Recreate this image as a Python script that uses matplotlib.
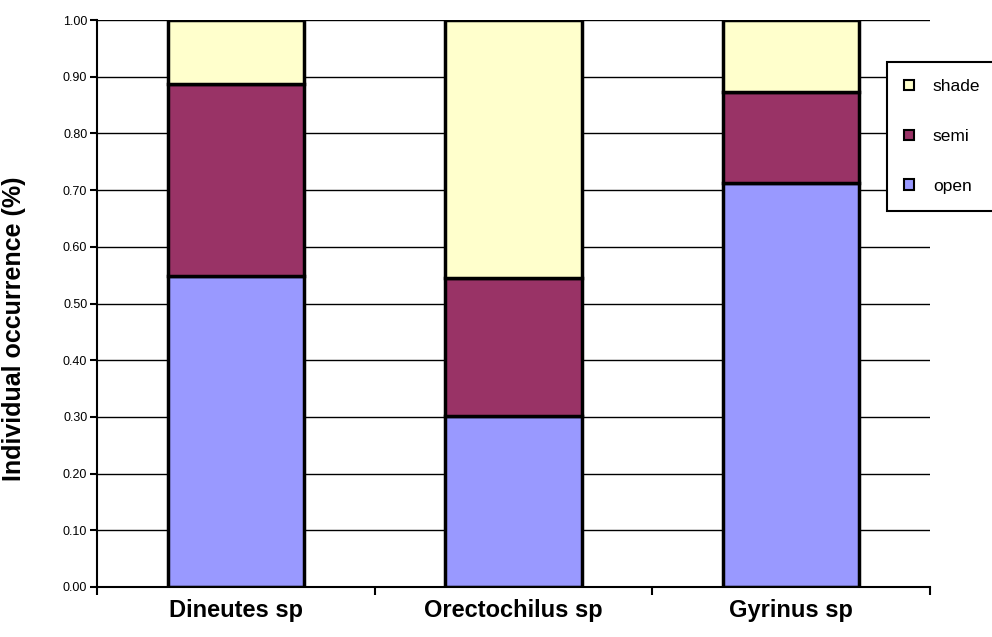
import matplotlib.pyplot as plt
from matplotlib.patches import Patch

plt.rcParams['font.family'] = ['Liberation Sans', 'DejaVu Sans']

# Andel individer per habitattyp
species = ["Dineutes sp", "Orectochilus sp", "Gyrinus sp"]
open_share = [0.548, 0.302, 0.712]
semi_share = [0.339, 0.243, 0.161]
shade_share = [0.113, 0.455, 0.127]

col_open = "#9999FF"
col_semi = "#993366"
col_shade = "#FFFFCC"

fig = plt.figure(figsize=(9.92, 6.37), dpi=100)
ax = fig.add_axes([0.0978, 0.0785, 0.8397, 0.890])

x = range(len(species))
bottom2 = [a + b for a, b in zip(open_share, semi_share)]

ax.bar(x, open_share, width=0.49, color=col_open, edgecolor="black", linewidth=2.5, zorder=3)
ax.bar(x, semi_share, width=0.49, bottom=open_share, color=col_semi, edgecolor="black", linewidth=2.5, zorder=3)
ax.bar(x, shade_share, width=0.49, bottom=bottom2, color=col_shade, edgecolor="black", linewidth=2.5, zorder=3)

ax.set_xlim(-0.5, 2.5)
ax.set_ylim(0, 1.0)
ax.set_yticks([i / 10 for i in range(11)])
ax.set_yticklabels(["%.2f" % (i / 10) for i in range(11)], fontsize=9)
ax.yaxis.grid(True, color="black", linewidth=1, zorder=0)

# kategorietiketter mellan tickstrecken
ax.set_xticks([-0.5, 0.5, 1.5, 2.5])
ax.set_xticklabels([])
ax.set_xticks(list(x), minor=True)
ax.set_xticklabels(species, minor=True, fontsize=17, fontweight="bold")
ax.tick_params(axis="x", which="minor", length=0, pad=9)
ax.tick_params(axis="x", which="major", length=6, width=1.5, direction="out")
ax.tick_params(axis="y", length=5, width=1.5, direction="out", pad=2)

for s in ["top", "right"]:
    ax.spines[s].set_visible(False)
ax.spines["left"].set_linewidth(1.5)
ax.spines["bottom"].set_linewidth(1.5)
ax.spines["left"].set_zorder(4)
ax.spines["bottom"].set_zorder(4)

ax.set_ylabel("Individual occurrence (%)", fontsize=18, fontweight="bold", labelpad=26)
ax.yaxis.set_label_coords(-0.085, 0.455)

handles = [
    Patch(facecolor=col_shade, edgecolor="black", linewidth=1.5, label="shade"),
    Patch(facecolor=col_semi, edgecolor="black", linewidth=1.5, label="semi"),
    Patch(facecolor=col_open, edgecolor="black", linewidth=1.5, label="open"),
]
leg = fig.legend(handles=handles, loc="upper left", bbox_to_anchor=(0.894, 0.903),
                 frameon=True, fancybox=False, edgecolor="black", framealpha=1,
                 fontsize=12.5, handlelength=0.55, handleheight=0.55, labelspacing=2.0,
                 handletextpad=1.1, borderpad=1.0, borderaxespad=0)
leg.get_frame().set_linewidth(1.5)

fig.savefig("out.png", dpi=100)
